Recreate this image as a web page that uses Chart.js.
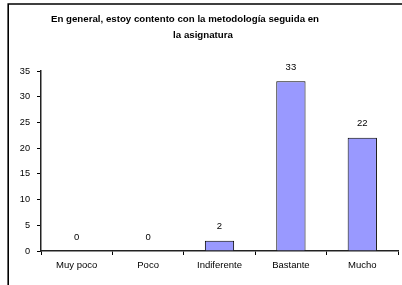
<!DOCTYPE html>
<html>
<head>
<meta charset="utf-8">
<script src="https://cdn.jsdelivr.net/npm/chart.js@4/dist/chart.umd.min.js"></script>
<style>
  html, body { margin: 0; padding: 0; background: #fff; }
  #wrap { width: 402px; height: 285px; }
</style>
</head>
<body>
<div id="wrap"><canvas id="c" width="402" height="285"></canvas></div>
<script>
const categories = ["Muy poco", "Poco", "Indiferente", "Bastante", "Mucho"];
const values = [0, 0, 2, 33, 22];
const titleLines = ["En general, estoy contento con la metodología seguida en", "la asignatura"];
const yTicks = [0, 5, 10, 15, 20, 25, 30, 35];

const FONT = "'Liberation Sans', Arial, sans-serif";

const decor = {
  id: 'decor',
  beforeDraw(chart) {
    const ctx = chart.ctx;
    ctx.save();
    ctx.fillStyle = '#fff';
    ctx.fillRect(0, 0, chart.width, chart.height);
    ctx.strokeStyle = '#000';
    ctx.lineWidth = 1.6;
    ctx.beginPath();
    ctx.moveTo(8.2, chart.height + 2);
    ctx.lineTo(8.2, 4);
    ctx.lineTo(chart.width + 2, 4);
    ctx.stroke();
    ctx.fillStyle = '#000';
    ctx.font = 'bold 9.7px ' + FONT;
    ctx.textAlign = 'center';
    ctx.textBaseline = 'middle';
    ctx.fillText(titleLines[0], 185, 19);
    ctx.fillText(titleLines[1], 203, 35);
    ctx.restore();
  },
  afterDatasetsDraw(chart) {
    const ctx = chart.ctx;
    const meta = chart.getDatasetMeta(0);
    ctx.save();
    ctx.fillStyle = '#000';
    ctx.font = '9.5px ' + FONT;
    ctx.textAlign = 'center';
    ctx.textBaseline = 'middle';
    meta.data.forEach((bar, i) => {
      ctx.fillText(String(values[i]), bar.x, bar.y - 14);
    });
    ctx.restore();
  }
};

new Chart(document.getElementById('c'), {
  type: 'bar',
  data: {
    labels: categories,
    datasets: [{
      data: values,
      backgroundColor: '#9999FF',
      borderColor: '#000000',
      borderWidth: 1,
      borderSkipped: 'bottom',
      categoryPercentage: 1,
      barPercentage: 0.41
    }]
  },
  options: {
    responsive: false,
    animation: false,
    devicePixelRatio: 1,
    layout: { padding: { top: 71, right: 4, left: 0, bottom: 0 } },
    plugins: { legend: { display: false }, title: { display: false }, tooltip: { enabled: false } },
    scales: {
      x: {
        offset: true,
        grid: { display: true, drawOnChartArea: false, offset: true, tickLength: 4, color: '#000', tickWidth: 1 },
        border: { display: true, color: '#222', width: 1.5 },
        ticks: { color: '#000', font: { family: FONT, size: 9.5 }, padding: 5, maxRotation: 0, autoSkip: false },
        afterFit(scale) { scale.height = 34; }
      },
      y: {
        min: 0, max: 35,
        afterBuildTicks(scale) { scale.ticks = yTicks.map(v => ({ value: v })); },
        grid: { display: true, drawOnChartArea: false, tickLength: 4, color: '#000', tickWidth: 1 },
        border: { display: true, color: '#222', width: 1.5 },
        ticks: { color: '#000', font: { family: FONT, size: 9.2 }, padding: 7 },
        afterFit(scale) { scale.width = 41; }
      }
    }
  },
  plugins: [decor]
});
</script>
</body>
</html>
